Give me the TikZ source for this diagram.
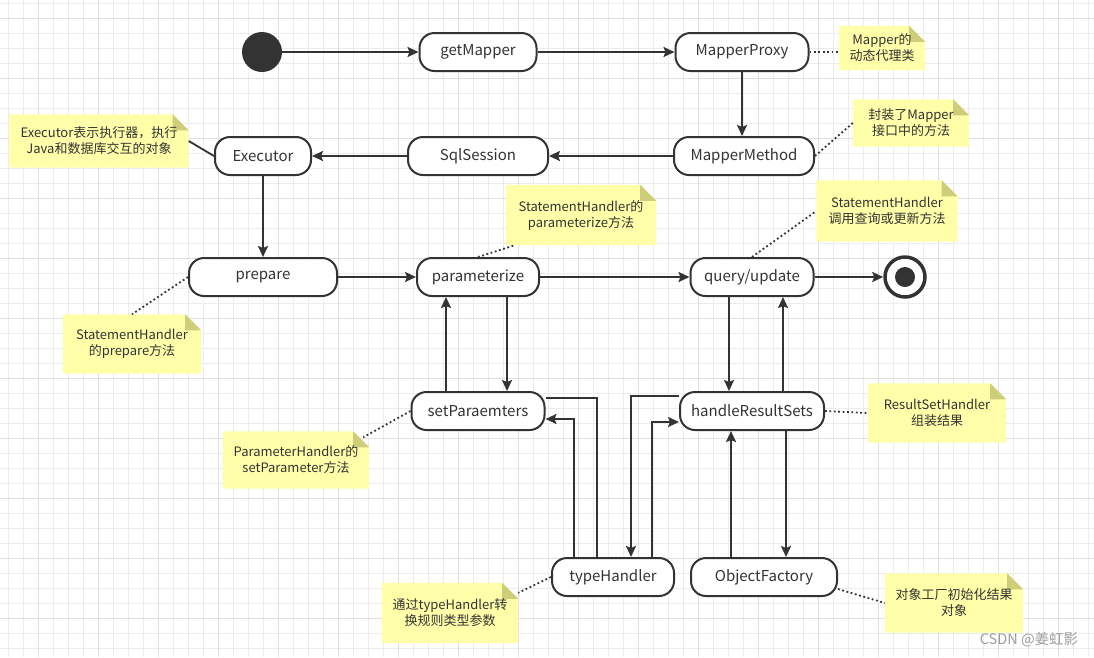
\documentclass[tikz,border=0pt]{standalone}
\usepackage{fontspec}
\setmainfont{Noto Sans CJK SC}
\usetikzlibrary{arrows.meta,backgrounds}
\definecolor{ink}{HTML}{333333}
\definecolor{noteyellow}{HTML}{FFFFAA}
\definecolor{notefold}{HTML}{CDCD7A}
\definecolor{gridminor}{HTML}{ECECEC}
\definecolor{gridmajor}{HTML}{DFDFDF}

\begin{document}
\begin{tikzpicture}[
x = 1pt,
y = -1pt,
state/.style={
  draw=ink,
  line width=2pt,
  fill=white,
  rounded corners=15pt,
  minimum height=38pt,
  inner sep=0pt,
  text=ink,
  font=\fontsize{15}{18}\selectfont
  },
startdot/.style={
  circle,
  fill=ink,
  minimum size=40pt,
  inner sep=0pt
  },
endring/.style={
  circle,
  draw=ink,
  fill=white,
  line width=3.5pt,
  minimum size=40pt,
  inner sep=0pt,
  path picture={\fill[ink] (path picture bounding box.center) circle (10pt);}
  },
note/.style={
  align=center,
  inner sep=0pt,
  text=ink,
  font=\fontsize{13}{16}\selectfont
  },
link/.style={
  draw=ink,
  line width=2pt
  },
dotlink/.style={
  draw=ink,
  line width=1.8pt,
  dash pattern=on 1.8pt off 2.6pt
  },
>={Stealth[length=11pt,width=10pt,inset=2pt]}
]

\useasboundingbox (0,0) rectangle (1094,657);

% grid paper
\begin{pgfonlayer}{background}
\fill[white] (0,0) rectangle (1094,657);
\foreach \gx in {8,23,...,1094}
  \draw[gridminor, line width=1pt] (\gx,0) -- (\gx,657);
\foreach \gy in {3,18,...,657}
  \draw[gridminor, line width=1pt] (0,\gy) -- (1094,\gy);
\foreach \gx in {38,98,...,1094}
  \draw[gridmajor, line width=1pt] (\gx,0) -- (\gx,657);
\foreach \gy in {18,78,...,657}
  \draw[gridmajor, line width=1pt] (0,\gy) -- (1094,\gy);
\end{pgfonlayer}

% states
\node[startdot] (start) at (262,52) {};
\node[state, minimum width=117pt] (getmapper) at (478,52) {getMapper};
\node[state, minimum width=133pt] (proxy) at (742,52) {MapperProxy};
\node[state, minimum width=140pt] (method) at (744,156) {MapperMethod};
\node[state, minimum width=140pt] (sqlsession) at (478,156) {SqlSession};
\node[state, minimum width=96pt] (executor) at (263,156) {Executor};
\node[state, minimum width=148pt] (prepare) at (263,277) {prepare};
\node[state, minimum width=122pt] (param) at (478,277) {parameterize};
\node[state, minimum width=123pt] (query) at (752,277) {query/update};
\node[endring] (final) at (905,277) {};
\node[state, minimum width=133pt] (setparams) at (478,411) {setParaemters};
\node[state, minimum width=144pt] (handlers) at (752,411) {handleResultSets};
\node[state, minimum width=122pt] (typeh) at (613,577) {typeHandler};
\node[state, minimum width=146pt] (objfactory) at (764,577) {ObjectFactory};

% notes
\node[note, minimum width=179pt, minimum height=53pt] (nexec) at (99,141) {Executor表示执行器，执行\\Java和数据库交互的对象};
\node[note, minimum width=86pt, minimum height=44pt] (nproxy) at (882,48) {Mapper的\\动态代理类};
\node[note, minimum width=116pt, minimum height=47pt] (nmethod) at (911,123) {封装了Mapper\\接口中的方法};
\node[note, minimum width=141pt, minimum height=61pt] (nquery) at (887,211) {StatementHandler\\调用查询或更新方法};
\node[note, minimum width=150pt, minimum height=60pt] (nparam) at (581,215) {StatementHandler的\\parameterize方法};
\node[note, minimum width=138pt, minimum height=59pt] (nprepare) at (132,344) {StatementHandler\\的prepare方法};
\node[note, minimum width=146pt, minimum height=57pt] (nset) at (296,460) {ParameterHandler的\\setParameter方法};
\node[note, minimum width=136pt, minimum height=60pt] (ntype) at (450,613) {通过typeHandler转\\换规则类型参数};
\node[note, minimum width=138pt, minimum height=59pt] (nresult) at (937,413) {ResultSetHandler\\组装结果};
\node[note, minimum width=138pt, minimum height=59pt] (nobj) at (954,603) {对象工厂初始化结果\\对象};

\begin{pgfonlayer}{background}
\foreach \nn in {nexec,nproxy,nmethod,nquery,nparam,nprepare,nset,ntype,nresult,nobj}
{
  \fill[noteyellow] (\nn.south west) -- (\nn.north west) -- ([xshift=-16pt]\nn.north east)
    -- ([yshift=-16pt]\nn.north east) -- (\nn.south east) -- cycle;
  \fill[notefold] ([xshift=-16pt]\nn.north east) -- ([xshift=-16pt,yshift=-16pt]\nn.north east)
    -- ([yshift=-16pt]\nn.north east) -- cycle;
}
\end{pgfonlayer}

% main flow
\draw[link][->] (start) -- (getmapper);
\draw[link][->] (getmapper) -- (proxy);
\draw[link][->] (proxy.south) -- (proxy.south |- method.north);
\draw[link][->] (method) -- (sqlsession);
\draw[link][->] (sqlsession) -- (executor);
\draw[link][->] (executor) -- (prepare);
\draw[link][->] (prepare) -- (param);
\draw[link][->] (param) -- (query);
\draw[link][->] (query) -- (final);

% parameter side
\draw[link][->] ([xshift=-32pt]setparams.north) -- ([xshift=-32pt]param.south);
\draw[link][->] ([xshift=29pt]param.south) -- ([xshift=29pt]setparams.north);
\draw[link] ([yshift=13pt]setparams.east) -| ([xshift=-16pt]typeh.north);
\draw[link][->] ([xshift=-39pt]typeh.north) |- ([yshift=-8pt]setparams.east);

% result side
\draw[link][->] ([xshift=-23pt]query.south) -- ([xshift=-23pt]handlers.north);
\draw[link][->] ([xshift=31pt]handlers.north) -- ([xshift=31pt]query.south);
\draw[link][->] ([yshift=15pt]handlers.west) -| ([xshift=18pt]typeh.north);
\draw[link][->] ([xshift=39pt]typeh.north) |- ([yshift=-11pt]handlers.west);
\draw[link][->] ([xshift=-21pt]handlers.south |- objfactory.north) -- ([xshift=-21pt]handlers.south);
\draw[link][->] ([xshift=34pt]handlers.south) -- ([xshift=34pt]handlers.south |- objfactory.north);

% note links
\draw[link, line width=1.8pt] (nexec.east) -- (executor.west);
\draw[dotlink] (proxy.east) -- (proxy.east -| nproxy.west);
\draw[dotlink] (method.east) -- (nmethod.west);
\draw[dotlink] (query.north) -- (nquery.west);
\draw[dotlink] (param.north) -- ([xshift=9pt]nparam.south west);
\draw[dotlink] (prepare.west) -- (nprepare.north);
\draw[dotlink] (setparams.west) -- ([xshift=-6pt,yshift=-6pt]nset.north east);
\draw[dotlink] (typeh.west) -- ([yshift=-10pt]ntype.north east);
\draw[dotlink] (handlers.east) -- (nresult.west);
\draw[dotlink] ([yshift=-12pt]objfactory.east) -- (nobj.west);

\node[text=black!38, font=\fontsize{14.5}{16}\selectfont] (csdn) at (1029,640) {CSDN @姜虹影};

\end{tikzpicture}
\end{document}
